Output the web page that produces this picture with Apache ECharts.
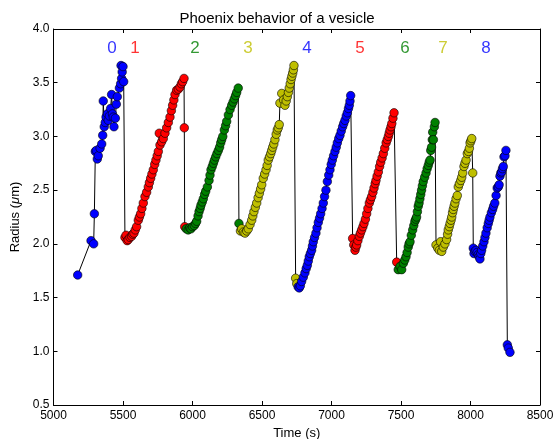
<!DOCTYPE html>
<html>
<head>
<meta charset="utf-8">
<script src="https://cdn.jsdelivr.net/npm/echarts@6/dist/echarts.min.js"></script>
<style>html,body{margin:0;padding:0;background:#fff}#c{width:554px;height:439px}</style>
</head>
<body>
<div id="c"></div>
<script>
// Cycle data: time (s) and radius (µm)
var t0 = [5174,5270,5289,5294,5301,5308,5315,5322,5335,5347,5354,5358,5365,5372,5378,5388,5394,5402,5411,5418,5424,5430,5435,5445,5452,5459,5474,5483,5486,5490,5494,5500,5505];
var r0 = [1.71,2.03,2.00,2.28,2.86,2.87,2.79,2.82,2.89,2.93,3.01,3.33,3.09,3.13,3.18,3.21,3.15,3.19,3.26,3.39,3.21,3.18,3.09,3.17,3.30,3.37,3.45,3.49,3.66,3.54,3.60,3.65,3.51];
var t1 = [5514,5522,5530,5538,5550,5562,5570,5579,5588,5598,5610,5618,5627,5636,5646,5658,5670,5682,5690,5699,5708,5718,5728,5737,5746,5754,5761,5766,5778,5790,5802,5814,5826,5838,5848,5857,5866,5874,5886,5898,5910,5920,5929,5939,5941,5944];
var r1 = [2.06,2.08,2.03,2.04,2.06,2.07,2.09,2.10,2.13,2.16,2.22,2.25,2.28,2.33,2.38,2.44,2.48,2.53,2.57,2.61,2.65,2.69,2.74,2.78,2.82,2.86,3.03,2.92,2.95,2.98,3.03,3.08,3.13,3.18,3.24,3.29,3.34,3.39,3.43,3.44,3.46,3.49,3.51,3.54,3.08,2.16];
var t2 = [5955,5969,5980,5989,6000,6013,6022,6030,6040,6047,6055,6061,6070,6078,6087,6095,6107,6119,6126,6133,6142,6150,6158,6167,6176,6186,6195,6203,6210,6218,6229,6238,6246,6258,6270,6282,6292,6301,6310,6318,6329,6334];
var r2 = [2.14,2.13,2.15,2.14,2.16,2.17,2.19,2.21,2.26,2.30,2.33,2.36,2.39,2.42,2.46,2.49,2.53,2.59,2.64,2.69,2.72,2.75,2.78,2.81,2.84,2.87,2.90,2.94,2.97,3.00,3.06,3.10,3.14,3.20,3.25,3.29,3.32,3.35,3.38,3.41,3.45,2.19];
var t3 = [6345,6354,6366,6378,6390,6401,6414,6426,6434,6442,6452,6462,6472,6481,6490,6498,6509,6519,6529,6537,6545,6554,6563,6570,6577,6585,6593,6602,6610,6617,6624,6629,6642,6655,6665,6674,6682,6690,6696,6703,6709,6715,6721,6726,6730,6742,6750];
var r3 = [2.12,2.14,2.11,2.10,2.12,2.14,2.18,2.22,2.26,2.30,2.34,2.38,2.43,2.47,2.51,2.55,2.61,2.65,2.69,2.73,2.78,2.81,2.84,2.87,2.90,2.93,2.97,3.02,3.06,3.08,3.11,3.31,3.40,3.34,3.29,3.33,3.37,3.41,3.45,3.49,3.53,3.56,3.59,3.62,3.66,1.68,1.63];
var t4 = [6760,6768,6776,6785,6797,6809,6818,6826,6833,6840,6848,6857,6863,6869,6878,6888,6896,6905,6914,6922,6932,6941,6950,6960,6970,6980,6989,6998,7006,7015,7025,7034,7042,7052,7061,7070,7080,7088,7097,7106,7114,7122,7128,7133,7138];
var r4 = [1.60,1.59,1.61,1.65,1.69,1.73,1.77,1.80,1.84,1.88,1.91,1.94,1.98,2.02,2.06,2.10,2.15,2.20,2.24,2.28,2.33,2.38,2.44,2.50,2.58,2.64,2.69,2.74,2.78,2.82,2.86,2.90,2.94,2.98,3.01,3.05,3.09,3.12,3.15,3.19,3.22,3.26,3.29,3.33,3.38];
var t5 = [7152,7160,7169,7175,7181,7190,7200,7208,7217,7226,7234,7244,7253,7262,7272,7280,7289,7298,7306,7314,7320,7328,7337,7346,7354,7364,7373,7383,7393,7401,7409,7415,7421,7428,7434,7442,7450,7469];
var r5 = [2.05,1.99,1.94,1.97,1.99,2.03,2.07,2.10,2.13,2.16,2.19,2.23,2.28,2.33,2.38,2.41,2.44,2.48,2.52,2.56,2.59,2.63,2.67,2.72,2.76,2.80,2.84,2.89,2.94,2.97,3.00,3.03,3.06,3.09,3.12,3.17,3.22,1.83];
var t6 = [7480,7493,7505,7517,7527,7536,7544,7552,7558,7565,7574,7584,7592,7600,7606,7612,7618,7624,7630,7636,7642,7648,7654,7660,7670,7680,7688,7696,7703,7709,7714,7720,7725,7728,7733,7740,7745];
var r6 = [1.76,1.79,1.76,1.82,1.85,1.88,1.92,1.97,2.00,2.02,2.08,2.13,2.17,2.21,2.23,2.25,2.30,2.35,2.38,2.42,2.46,2.50,2.54,2.58,2.62,2.66,2.70,2.73,2.76,2.78,2.87,2.90,2.97,3.04,2.97,3.09,3.13];
var t7 = [7752,7765,7776,7785,7793,7804,7816,7828,7835,7840,7847,7853,7860,7865,7871,7876,7882,7888,7896,7905,7912,7920,7930,7937,7944,7953,7960,7968,7977,7985,7992,7997,8003,8009,8016];
var r7 = [1.99,1.96,1.94,2.02,1.93,1.97,2.00,2.04,2.09,2.13,2.16,2.19,2.22,2.25,2.29,2.32,2.35,2.38,2.42,2.45,2.53,2.56,2.59,2.62,2.66,2.72,2.75,2.78,2.84,2.86,2.89,2.94,2.96,2.98,2.66];
var t8 = [8020,8025,8032,8039,8048,8056,8062,8068,8074,8080,8088,8097,8104,8111,8120,8128,8134,8140,8150,8159,8166,8175,8184,8192,8200,8206,8212,8218,8224,8230,8236,8241,8248,8255,8265,8272,8284];
var r8 = [1.96,1.91,1.93,1.94,1.92,1.90,1.88,1.86,1.91,1.94,1.98,2.02,2.06,2.10,2.15,2.19,2.22,2.25,2.29,2.32,2.35,2.38,2.45,2.52,2.53,2.55,2.63,2.66,2.67,2.70,2.72,2.81,2.82,2.87,1.06,1.03,0.99];
var cycleNames = ['0','1','2','3','4','5','6','7','8'];
var cycleColors = ['#0000ff','#ff0000','#008000','#bfbf00','#0000ff','#ff0000','#008000','#bfbf00','#0000ff'];
var labelT = [5421,5586,6018,6399,6823,7204,7528,7802,8112];
var labelR = [3.82,3.82,3.82,3.82,3.82,3.82,3.82,3.82,3.82];
var xTicks = [5000,5500,6000,6500,7000,7500,8000,8500];
var yTicks = [0.5,1.0,1.5,2.0,2.5,3.0,3.5,4.0];

var T = [t0,t1,t2,t3,t4,t5,t6,t7,t8];
var R = [r0,r1,r2,r3,r4,r5,r6,r7,r8];
function pairs(a,b){var o=[];for(var i=0;i<a.length;i++)o.push([a[i],b[i]]);return o;}
var all = [];
for (var k=0;k<T.length;k++) all = all.concat(pairs(T[k],R[k]));

var series = [{
  type:'line', data: all, showSymbol:false, symbol:'none',
  lineStyle:{color:'#000',width:1}, z:1, animation:false, xAxisIndex:0, yAxisIndex:0
}];
for (var k=0;k<T.length;k++) {
  series.push({
    type:'scatter', data: pairs(T[k],R[k]), symbol:'circle', symbolSize:8.5,
    itemStyle:{color:cycleColors[k], borderColor:'#000', borderWidth:0.6, opacity:1},
    z:2, animation:false, xAxisIndex:0, yAxisIndex:0
  });
}
var labData = [];
for (var k=0;k<cycleNames.length;k++) {
  labData.push({value:[labelT[k],labelR[k]], name:cycleNames[k],
    label:{show:true, formatter:cycleNames[k], color:cycleColors[k], position:'inside',
      fontSize:17, fontFamily:'Liberation Sans, Arial, sans-serif'}});
}
series.push({type:'scatter', data:labData, symbolSize:0, z:3, animation:false, silent:true});

var font = 'Liberation Sans, Arial, sans-serif';
var chart = echarts.init(document.getElementById('c'), null, {renderer:'canvas'});
chart.setOption({
  backgroundColor:'#fff',
  animation:false,
  title:{text:'Phoenix behavior of a vesicle', left:'center', top:6,
    textStyle:{fontSize:15, fontWeight:'normal', color:'#000', fontFamily:font}},
  grid:{left:53.5, right:14, top:29, bottom:34, containLabel:false, outerBoundsMode:'none'},
  xAxis:[{
    type:'value', min:xTicks[0], max:xTicks[xTicks.length-1], interval:500,
    name:'Time (s)', nameLocation:'middle', nameGap:22,
    nameTextStyle:{fontSize:13, color:'#000', fontFamily:font},
    axisLine:{show:true, lineStyle:{color:'#000', width:1}},
    axisTick:{show:true, inside:true, length:4, lineStyle:{color:'#000'}},
    axisLabel:{fontSize:12, color:'#000', fontFamily:font, margin:5, formatter:function(v){return String(v);}},
    splitLine:{show:false}
  },{
    type:'value', position:'top', min:xTicks[0], max:xTicks[xTicks.length-1], interval:500,
    axisLine:{show:true, lineStyle:{color:'#000', width:1}},
    axisTick:{show:true, inside:true, length:4, lineStyle:{color:'#000'}},
    axisLabel:{show:false}, splitLine:{show:false}
  }],
  yAxis:[{
    type:'value', min:yTicks[0], max:yTicks[yTicks.length-1], interval:0.5,
    name:'Radius ({i|μ}m)', nameLocation:'middle', nameGap:28, nameRotate:90,
    nameTextStyle:{fontSize:13, color:'#000', fontFamily:font,
      rich:{i:{fontStyle:'italic', fontSize:13, fontFamily:font, color:'#000'}}},
    axisLine:{show:true, lineStyle:{color:'#000', width:1}},
    axisTick:{show:true, inside:true, length:4, lineStyle:{color:'#000'}},
    axisLabel:{fontSize:12, color:'#000', fontFamily:font, margin:4, formatter:function(v){return v.toFixed(1);}},
    splitLine:{show:false}
  },{
    type:'value', position:'right', min:yTicks[0], max:yTicks[yTicks.length-1], interval:0.5,
    axisLine:{show:true, lineStyle:{color:'#000', width:1}},
    axisTick:{show:true, inside:true, length:4, lineStyle:{color:'#000'}},
    axisLabel:{show:false}, splitLine:{show:false}
  }],
  series: series
});
</script>
</body>
</html>
